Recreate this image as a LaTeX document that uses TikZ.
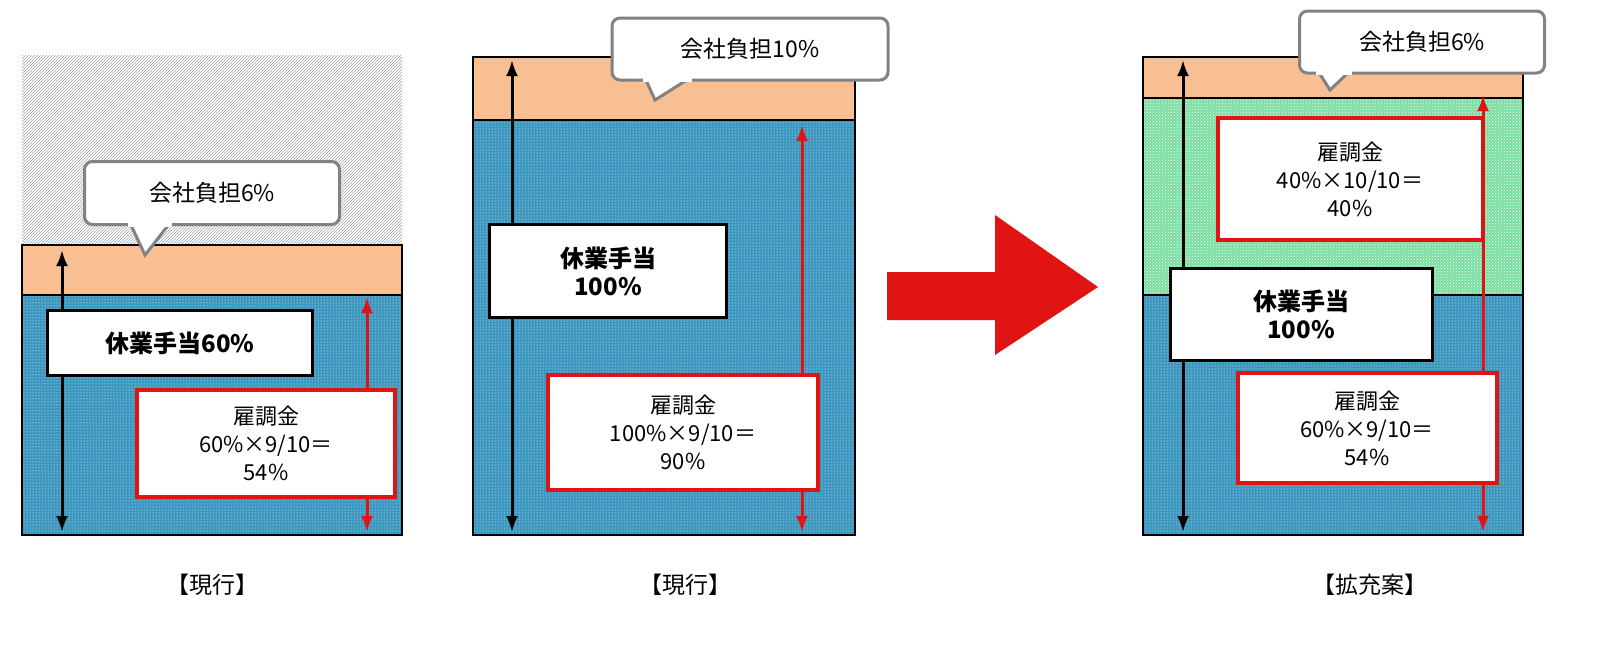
\documentclass[tikz,border=0pt]{standalone}
\usepackage{fontspec}
\setmainfont{Noto Sans CJK JP}
\usetikzlibrary{patterns,arrows.meta}
\definecolor{wageblue}{RGB}{58,150,190}
\definecolor{burden}{RGB}{248,192,146}
\definecolor{extra}{RGB}{120,222,160}
\definecolor{callgray}{RGB}{130,130,130}
\definecolor{subred}{RGB}{225,20,20}
\tikzset{
  bluepart/.style={preaction={fill=wageblue}, pattern=dots, pattern color=white, draw=black, line width=2pt},
  greenpart/.style={preaction={fill=extra}, pattern=crosshatch dots, pattern color=white, draw=black, line width=2pt},
  burdenpart/.style={fill=burden, draw=black, line width=2pt},
  wagebox/.style={draw=black, line width=3pt, fill=white, font=\bfseries\fontsize{24}{28}\selectfont, align=center, inner sep=0pt},
  subbox/.style={draw=subred, line width=4pt, fill=white, font=\fontsize{22}{28}\selectfont, align=center, inner sep=0pt},
  callout/.style={draw=callgray, line width=3pt, rounded corners=8pt, fill=white, font=\fontsize{23}{26}\selectfont, inner sep=0pt},
  span/.style={{Latex[length=16pt,width=12pt]}-{Latex[length=16pt,width=12pt]}, line width=3pt},
  caption/.style={font=\fontsize{23}{26}\selectfont}
}
\begin{document}
\begin{tikzpicture}[x=1pt, y=-1pt]
\fill[white] (0,0) rectangle (1600,648);

%left
\fill[pattern=north east lines, pattern color=gray!70] (22,55) rectangle (402,245);
\draw[burdenpart] (22,245) rectangle (402,295);
\draw[bluepart] (22,295) rectangle (402,535);
\coordinate (lt) at (62,250); \coordinate (lb) at (62,532);
\draw[span] (lt) -- (lb);
\coordinate (rt) at (367,297); \coordinate (rb) at (367,532);
\draw[span, subred] (rt) -- (rb);
\node[callout, minimum width=255, minimum height=63] (callA) at (212,193) {会社負担6\%};
\draw[callgray, line width=3pt, fill=white] (130,223) -- (145,255) -- (170,223);
\fill[white] (128,221) rectangle (172,227);
\node[wagebox, minimum width=265, minimum height=65] (wageA) at (180,343) {休業手当60\%};
\node[subbox, minimum width=258, minimum height=107] (subA) at (266,443) {雇調金\\60\%×9/10＝\\54\%};
\node[caption] (capA) at (212,585) {【現行】};

%middle
\draw[burdenpart] (473,57) rectangle (855,120);
\draw[bluepart] (473,120) rectangle (855,535);
\node[callout, minimum width=276, minimum height=62] (callB) at (750,49) {会社負担10\%};
\draw[callgray, line width=3pt, fill=white] (645,78) -- (655,100) -- (690,78);
\fill[white] (643,76) rectangle (692,82);
\coordinate (mt) at (512,60); \coordinate (mb) at (512,532);
\draw[span] (mt) -- (mb);
\coordinate (nt) at (802,125); \coordinate (nb) at (802,532);
\draw[span, subred] (nt) -- (nb);
\node[wagebox, minimum width=237, minimum height=93] (wageB) at (608,271) {休業手当\\100\%};
\node[subbox, minimum width=270, minimum height=115] (subB) at (683,432) {雇調金\\100\%×9/10＝\\90\%};
\node[caption] (capB) at (685,585) {【現行】};

%arrow
\fill[subred] (887,272) -- (995,272) -- (995,215) -- (1098,287) -- (995,355) -- (995,320) -- (887,320) -- cycle;

%right
\draw[burdenpart] (1143,57) rectangle (1523,98);
\draw[greenpart] (1143,98) rectangle (1523,295);
\draw[bluepart] (1143,295) rectangle (1523,535);
\node[callout, minimum width=245, minimum height=62] (callC) at (1422,42) {会社負担6\%};
\draw[callgray, line width=3pt, fill=white] (1318,71) -- (1330,90) -- (1350,71);
\fill[white] (1316,69) rectangle (1352,75);
\coordinate (st) at (1183,60); \coordinate (sb) at (1183,532);
\draw[span] (st) -- (sb);
\coordinate (ut) at (1483,95); \coordinate (ub) at (1483,532);
\draw[span, subred] (ut) -- (ub);
\node[subbox, minimum width=265, minimum height=122] (subC) at (1350,179) {雇調金\\40\%×10/10＝\\40\%};
\node[wagebox, minimum width=262, minimum height=92] (wageC) at (1301,314) {休業手当\\100\%};
\node[subbox, minimum width=259, minimum height=110] (subD) at (1367,428) {雇調金\\60\%×9/10＝\\54\%};
\node[caption] (capC) at (1370,585) {【拡充案】};

\pgfresetboundingbox
\useasboundingbox (0,0) rectangle (1600,648);
\end{tikzpicture}
\end{document}
